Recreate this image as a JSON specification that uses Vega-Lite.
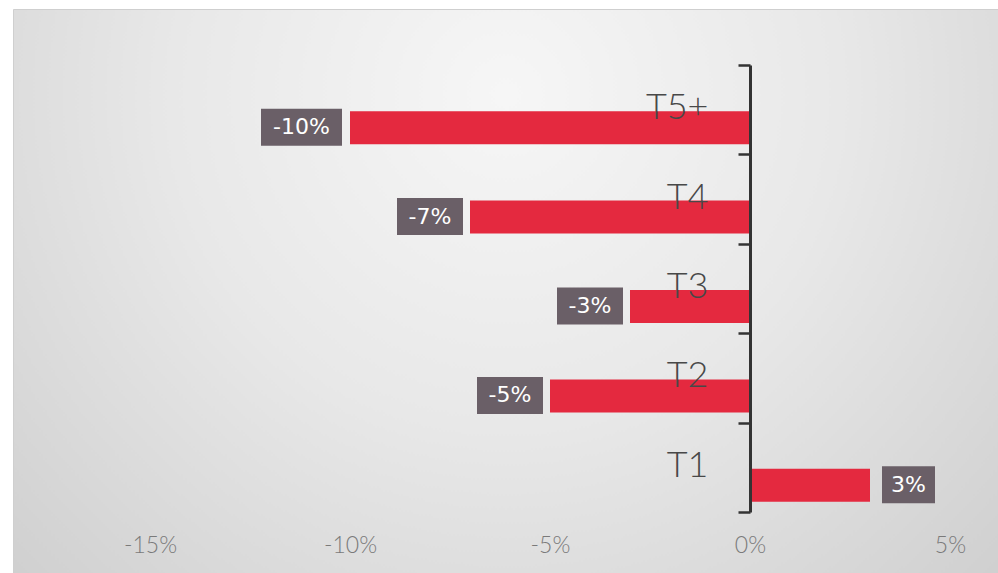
{
  "$schema": "https://vega.github.io/schema/vega-lite/v6.json",
  "width": 985,
  "height": 564,
  "autosize": {"type": "none"},
  "padding": {"left": 13, "top": 9, "right": 0, "bottom": 0},
  "background": "#ffffff",
  "config": {
    "view": {
      "stroke": "#cfcfcf",
      "strokeWidth": 1,
      "fill": {
        "gradient": "radial",
        "x1": 0.5, "y1": 0.3, "r1": 0,
        "x2": 0.5, "y2": 0.3, "r2": 0.75,
        "stops": [
          {"offset": 0, "color": "#f6f6f6"},
          {"offset": 0.45, "color": "#e8e8e8"},
          {"offset": 1, "color": "#cccccc"}
        ]
      }
    }
  },
  "data": {
    "values": [
      {"tier": "T5+", "value": -10, "label": "-10%"},
      {"tier": "T4", "value": -7, "label": "-7%"},
      {"tier": "T3", "value": -3, "label": "-3%"},
      {"tier": "T2", "value": -5, "label": "-5%"},
      {"tier": "T1", "value": 3, "label": "3%"}
    ]
  },
  "encoding": {
    "y": {
      "field": "tier",
      "type": "nominal",
      "sort": ["T5+", "T4", "T3", "T2", "T1"],
      "scale": {"range": [56, 503], "paddingInner": 0, "paddingOuter": 0},
      "axis": {
        "orient": "left",
        "offset": -737,
        "title": null,
        "zindex": 1,
        "domainColor": "#333333",
        "domainWidth": 3,
        "tickBand": "extent",
        "tickSize": 12,
        "tickWidth": 2.5,
        "tickColor": "#333333",
        "labelPadding": 30,
        "labelOffset": -2,
        "labelFont": "Lato",
        "labelFontWeight": 300,
        "labelFontSize": 36,
        "labelColor": "#484848"
      }
    },
    "x": {
      "field": "value",
      "type": "quantitative",
      "scale": {"domain": [-18.425, 6.2], "nice": false, "zero": false},
      "axis": {
        "orient": "bottom",
        "offset": -28,
        "title": null,
        "values": [-15, -10, -5, 0, 5],
        "labelExpr": "datum.value + '%'",
        "domain": false,
        "ticks": false,
        "grid": false,
        "labelPadding": 0,
        "labelBaseline": "middle",
        "labelFlush": false,
        "labelOverlap": false,
        "labelFont": "Lato",
        "labelFontWeight": 300,
        "labelFontSize": 23,
        "labelColor": "#7a7a7a"
      }
    }
  },
  "layer": [
    {
      "mark": {"type": "bar", "height": 33, "yOffset": 18, "color": "#e4293f"}
    },
    {
      "mark": {"type": "point", "filled": true, "opacity": 1, "size": 400, "color": "#6a5f67", "yOffset": 17.5},
      "encoding": {
        "shape": {
          "field": "label",
          "type": "nominal",
          "legend": null,
          "scale": {
            "domain": ["-10%", "-7%", "-3%", "-5%", "3%"],
            "range": [
              "M-8.9,-1.85L-0.8,-1.85L-0.8,1.85L-8.9,1.85Z",
              "M-7.3,-1.85L-0.7,-1.85L-0.7,1.85L-7.3,1.85Z",
              "M-7.3,-1.85L-0.7,-1.85L-0.7,1.85L-7.3,1.85Z",
              "M-7.3,-1.85L-0.7,-1.85L-0.7,1.85L-7.3,1.85Z",
              "M1.2,-1.85L6.5,-1.85L6.5,1.85L1.2,1.85Z"
            ]
          }
        }
      }
    },
    {
      "mark": {
        "type": "text",
        "font": "DejaVu Sans",
        "fontSize": 22,
        "color": "#ffffff",
        "align": "center",
        "baseline": "middle",
        "yOffset": 17.5,
        "dx": {"expr": "datum.value > 0 ? 38.5 : datum.value <= -10 ? -48.5 : -40"}
      },
      "encoding": {
        "text": {"field": "label"}
      }
    }
  ]
}
